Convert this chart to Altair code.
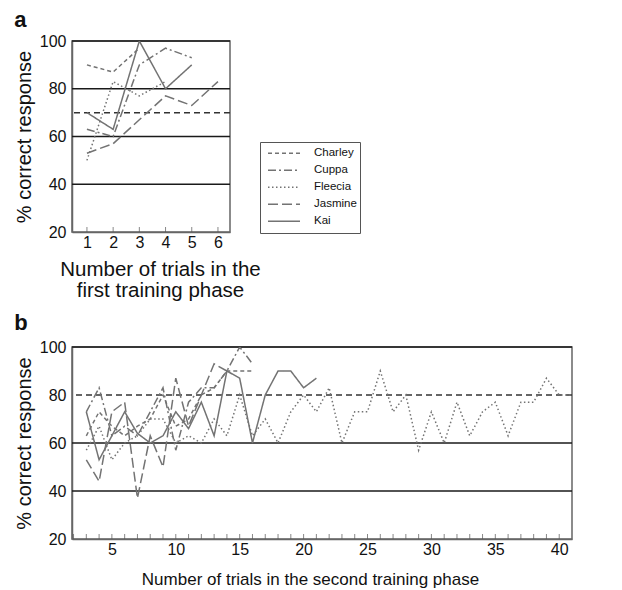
import altair as alt
import pandas as pd

FONT = "Liberation Sans"
subjects = ["Charley", "Cuppa", "Fleecia", "Jasmine", "Kai"]
dash_styles = [[4, 3], [8, 3, 2, 3], [1.5, 2.5], [10, 4], [1, 0]]

# Panel a: first training phase (trials start at 1)
a_first_trial = 1
a_charley = [90, 87, 97]
a_cuppa = [63, 60, 90, 97, 93]
a_fleecia = [50, 83, 77, 83]
a_jasmine = [53, 57, 67, 77, 73, 83]
a_kai = [70, 63, 100, 80, 90]

# Panel b: second training phase (first plotted point sits at trial 3)
b_first_trial = 3
b_charley = [63, 73, 67, 63, 67, 70, 80, 67, 70, 80, 83, 90, 90, 90]
b_cuppa = [73, 83, 63, 67, 63, 73, 83, 57, 77, 83, 83, 90, 100, 93]
b_fleecia = [57, 67, 53, 60, 63, 70, 70, 60, 63, 60, 70, 63, 80, 63, 70, 60, 73, 80, 73, 83,
             60, 73, 73, 90, 73, 80, 57, 73, 60, 77, 63, 73, 77, 63, 77, 77, 87, 80, 80]
b_jasmine = [53, 44, 73, 77, 37, 63, 50, 87, 67, 80, 93, 90]
b_kai = [73, 53, 63, 73, 64, 60, 63, 73, 66, 77, 63, 90, 87, 60, 80, 90, 90, 83, 87]

a_criterion = [70]
b_criterion = [80]
y_labels = [20, 40, 60, 80, 100]
a_grid = [40, 60, 80, 100]
b_grid = [40, 60, 100]
a_xticks = [1, 2, 3, 4, 5, 6]
b_xticks = list(range(2, 41))
b_xlabels = [5, 10, 15, 20, 25, 30, 35, 40]


def long_df(series, first):
    rows = []
    for name, vals in zip(subjects, series):
        for i, v in enumerate(vals):
            rows.append({"subject": name, "trial": first + i, "pct": v})
    return pd.DataFrame(rows)


df_a = long_df([a_charley, a_cuppa, a_fleecia, a_jasmine, a_kai], a_first_trial)
df_b = long_df([b_charley, b_cuppa, b_fleecia, b_jasmine, b_kai], b_first_trial)

LINE_COLOR = "#737373"


def panel(df, xdomain, width, height, grid, crit, xticks, xlabels, xtitle, letter, legend,
          xtitle_size, xtitle_pad, title_offset, xtitle_x):
    xs = alt.Scale(domain=xdomain, nice=False, zero=False)
    ys = alt.Scale(domain=[20, 100], nice=False)
    xaxis = alt.Axis(values=xlabels, title=xtitle, ticks=False, labelPadding=2,
                     titlePadding=xtitle_pad, grid=False, format="d", labelOverlap=False,
                     titleFontSize=xtitle_size, titleLineHeight=21, titleX=xtitle_x)
    yaxis = alt.Axis(values=y_labels, title="% correct response", ticks=False,
                     labelPadding=6, grid=False, titlePadding=5)

    grid_layer = alt.Chart(pd.DataFrame({"v": grid})).mark_rule(
        color="#1a1a1a", strokeWidth=1.3
    ).encode(y=alt.Y("v:Q", scale=ys, axis=yaxis))

    crit_layer = alt.Chart(pd.DataFrame({"v": crit})).mark_rule(
        color="#333333", strokeWidth=1.5, strokeDash=[6, 4]
    ).encode(y=alt.Y("v:Q", scale=ys, axis=yaxis))

    if legend:
        leg = alt.Legend(title=None, orient="none", legendX=188, legendY=101,
                         symbolType="stroke", symbolStrokeColor=LINE_COLOR,
                         symbolStrokeWidth=1.5, symbolSize=1024, symbolOffset=4,
                         labelFont=FONT, labelFontSize=11.5, labelColor="#111",
                         strokeColor="#555", padding=3, rowPadding=0, clipHeight=16.5,
                         labelOffset=13, fillColor="white")
        sd = alt.StrokeDash("subject:N", scale=alt.Scale(domain=subjects, range=dash_styles),
                            legend=leg)
    else:
        sd = alt.StrokeDash("subject:N", scale=alt.Scale(domain=subjects, range=dash_styles),
                            legend=None)

    line_layer = alt.Chart(df).mark_line(color=LINE_COLOR, strokeWidth=1.5, clip=True).encode(
        x=alt.X("trial:Q", scale=xs, axis=xaxis),
        y=alt.Y("pct:Q", scale=ys, axis=yaxis),
        detail="subject:N",
        strokeDash=sd,
    )

    tick_layer = alt.Chart(pd.DataFrame({"t": xticks, "y": [20] * len(xticks)})).mark_tick(
        orient="vertical", size=5, yOffset=-2.5, color="#555", thickness=1
    ).encode(x=alt.X("t:Q", scale=xs, axis=xaxis), y=alt.Y("y:Q", scale=ys, axis=yaxis))

    return alt.layer(grid_layer, crit_layer, line_layer, tick_layer).properties(
        width=width, height=height,
        title=alt.TitleParams(letter, anchor="start", fontSize=22, fontWeight="bold",
                              font=FONT, color="#111", frame="bounds",
                              offset=title_offset),
    )


pa = panel(df_a, [0.43, 6.46], 158, 191, a_grid, a_criterion, a_xticks, a_xticks,
           ["Number of trials in the", "first training phase"], "a", True,
           20.5, 9, 1, 88)
pb = panel(df_b, [1.88, 41.0], 500, 192, b_grid, b_criterion, b_xticks, b_xlabels,
           "Number of trials in the second training phase", "b", False,
           17, 14, 4, 238)

chart = alt.vconcat(pa, pb, spacing=9, background="white",
                    padding={"left": 5, "top": 0, "right": 5, "bottom": 5}).resolve_scale(
    strokeDash="independent"
).configure_view(
    stroke="#666", strokeWidth=1.5
).configure_axis(
    domainColor="#666", domainWidth=1.5, labelFont=FONT, labelFontSize=16, labelColor="#111",
    titleFont=FONT, titleFontSize=20, titleFontWeight="normal", titleColor="#111",
)

chart.save("out.html", embed_options={"renderer": "svg", "actions": False})
